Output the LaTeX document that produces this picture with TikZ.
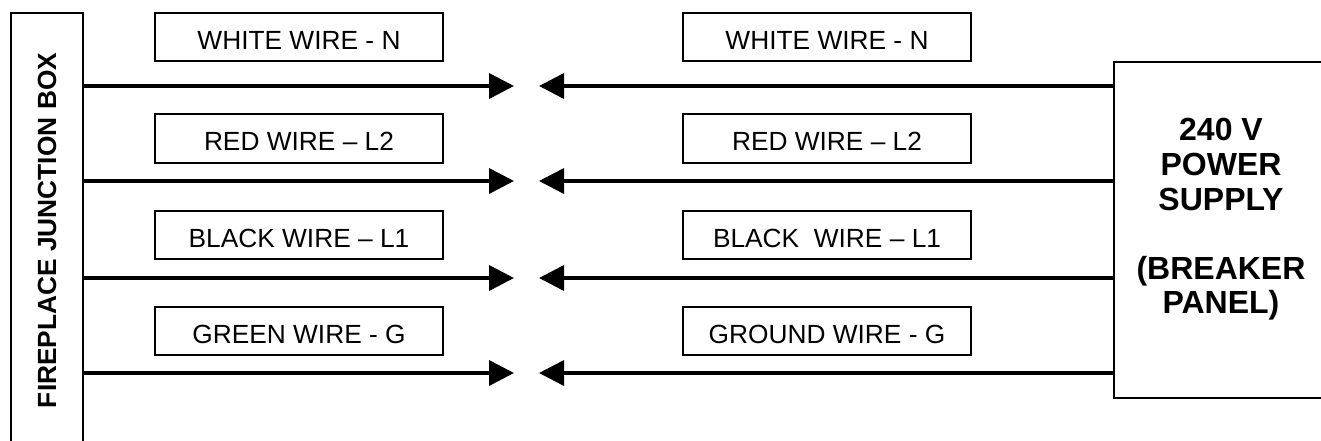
\documentclass[tikz,border=0pt]{standalone}
\usepackage{fontspec}
\setmainfont{Liberation Sans}
\usetikzlibrary{arrows.meta}
\begin{document}
\begin{tikzpicture}[x=1pt,y=-1pt,
  labelbox/.style={draw, line width=2pt, minimum width=288pt, minimum height=48pt,
    inner sep=0pt, text height=24pt, text depth=0pt, font=\fontsize{26.3}{30}\selectfont},
  wire/.style={line width=3.6pt, -{Triangle[length=25pt,width=25pt]}},
  frame/.style={draw, line width=2pt, inner sep=0pt}]
\useasboundingbox (0,0) rectangle (1321,441);
\clip (0,0) rectangle (1321,441);
% junction box (open at bottom, runs past the picture edge)
\node[frame, minimum width=72pt, minimum height=457pt] (jbox) at (47,241.5) {};
\node[rotate=90, inner sep=0pt, font=\bfseries\fontsize{26.3}{30}\selectfont] (jtext) at (47,230.5) {FIREPLACE JUNCTION BOX};
% power supply box (right side runs past the picture edge)
\node[frame, minimum width=226pt, minimum height=336pt] (supply) at (1227,230) {};
\node[align=center, inner sep=0pt, font=\bfseries\fontsize{32}{34.6}\selectfont] (stext) at (1221,219.5)
  {240 V\\POWER\\SUPPLY\\\mbox{}\\(BREAKER\\PANEL)};
% labels
\node[labelbox] (lw) at (299,37.5) {WHITE WIRE - N};
\node[labelbox] (lr) at (299,138.5) {RED WIRE – L2};
\node[labelbox] (lb) at (299,235) {BLACK WIRE – L1};
\node[labelbox] (lg) at (299,331) {GREEN WIRE - G};
\node[labelbox] (rw) at (827,37.5) {WHITE WIRE - N};
\node[labelbox] (rr) at (827,138.5) {RED WIRE – L2};
\node[labelbox] (rb) at (827,235) {BLACK~~WIRE – L1};
\node[labelbox] (rg) at (827,331) {GROUND WIRE - G};
% wires
\foreach \i/\y in {1/86,2/181,3/278,4/373} {
  \coordinate (lt\i) at (514,\y);
  \coordinate (rt\i) at (539,\y);
  \draw[wire] (jbox.east |- lt\i) -- (lt\i);
  \draw[wire] (supply.west |- rt\i) -- (rt\i);
}
\end{tikzpicture}
\end{document}
